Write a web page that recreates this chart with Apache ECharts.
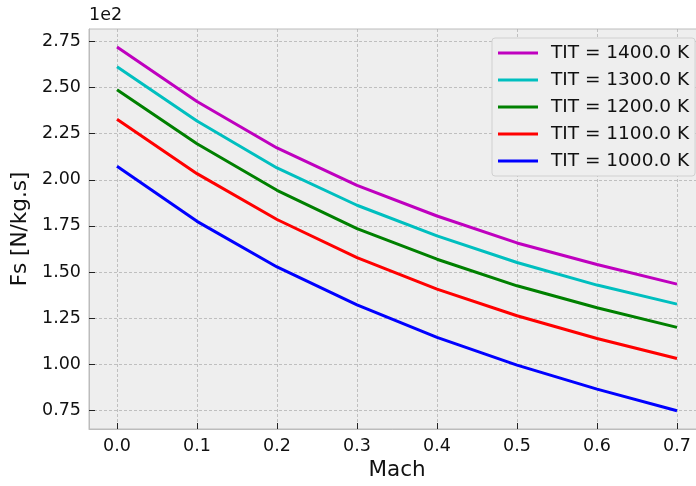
<!DOCTYPE html>
<html>
<head>
<meta charset="utf-8">
<script src="https://cdn.jsdelivr.net/npm/echarts@6/dist/echarts.min.js"></script>
<style>
  html, body { margin: 0; padding: 0; background: #fff; }
  #chart { width: 696px; height: 486px; }
</style>
</head>
<body>
<div id="chart"></div>
<script>
// Mach numbers on the x axis
const mach = [0.0, 0.1, 0.2, 0.3, 0.4, 0.5, 0.6, 0.7];

// specific thrust Fs [N/kg.s], one list per turbine inlet temperature
const fs1400 = [271.8, 242.4, 217.2, 197.0, 180.4, 165.8, 154.1, 143.5];
const fs1300 = [261.2, 231.8, 206.4, 186.2, 169.6, 155.2, 143.0, 132.7];
const fs1200 = [248.7, 219.5, 194.3, 173.6, 157.0, 142.6, 130.7, 120.1];
const fs1100 = [232.7, 203.3, 178.5, 157.9, 140.8, 126.4, 114.1, 103.3];
const fs1000 = [207.3, 177.5, 152.8, 132.3, 114.7, 99.7, 86.7, 75.0];

const xTicks = [0.0, 0.1, 0.2, 0.3, 0.4, 0.5, 0.6, 0.7];
const yTicks = [75, 100, 125, 150, 175, 200, 225, 250, 275];

const seriesDefs = [
  { name: 'TIT = 1400.0 K', color: '#bf00bf', values: fs1400 },
  { name: 'TIT = 1300.0 K', color: '#00bfbf', values: fs1300 },
  { name: 'TIT = 1200.0 K', color: '#008000', values: fs1200 },
  { name: 'TIT = 1100.0 K', color: '#ff0000', values: fs1100 },
  { name: 'TIT = 1000.0 K', color: '#0000ff', values: fs1000 }
];

const font = 'DejaVu Sans';
const chart = echarts.init(document.getElementById('chart'), null, { renderer: 'canvas' });

const gridLine = { show: true, lineStyle: { color: '#b2b2b2', width: 0.8, type: [3, 2] } };

const option = {
  animation: false,
  backgroundColor: '#ffffff',
  textStyle: { fontFamily: font },
  grid: {
    left: 89, top: 29, width: 616, height: 400,
    outerBoundsMode: 'none',
    show: true, backgroundColor: '#eeeeee', borderColor: '#bcbcbc', borderWidth: 1
  },
  legend: {
    orient: 'vertical',
    left: 492, top: 38,
    padding: [4, 6, 4, 6],
    itemWidth: 40, itemHeight: 3, itemGap: 5,
    icon: 'rect',
    backgroundColor: '#eeeeee',
    borderColor: '#d0d0d0', borderWidth: 1, borderRadius: 3,
    textStyle: { fontFamily: font, fontSize: 18.5, color: '#111', lineHeight: 22, padding: [0, 0, 0, 8] },
    data: seriesDefs.map(s => s.name)
  },
  xAxis: {
    type: 'value',
    min: -0.035, max: 0.735,
    name: 'Mach', nameLocation: 'middle', nameGap: 27,
    nameTextStyle: { fontFamily: font, fontSize: 21.5, color: '#111' },
    axisLine: { show: true, onZero: false, lineStyle: { color: '#bcbcbc', width: 1 } },
    axisTick: { show: true, inside: true, length: 6, customValues: xTicks, lineStyle: { color: '#222', width: 1 } },
    axisLabel: { customValues: xTicks, margin: 8, fontFamily: font, fontSize: 17.5, color: '#111',
      formatter: v => v.toFixed(1) },
    splitLine: gridLine
  },
  yAxis: {
    type: 'value',
    min: 65.1, max: 281.6,
    name: 'Fs [N/kg.s]', nameLocation: 'middle', nameGap: 57, nameRotate: 90,
    nameTextStyle: { fontFamily: font, fontSize: 21.5, color: '#111' },
    axisLine: { show: true, onZero: false, lineStyle: { color: '#bcbcbc', width: 1 } },
    axisTick: { show: true, inside: true, length: 6, customValues: yTicks, lineStyle: { color: '#222', width: 1 } },
    axisLabel: { customValues: yTicks, margin: 8, fontFamily: font, fontSize: 17.5, color: '#111',
      formatter: v => (v / 100).toFixed(2) },
    splitLine: gridLine
  },
  graphic: [{
    type: 'text', left: 89, top: 6,
    style: { text: '1e2', fontFamily: font, fontSize: 17.5, fill: '#111' }
  }],
  series: seriesDefs.map(s => ({
    name: s.name,
    type: 'line',
    symbol: 'none',
    color: s.color,
    lineStyle: { width: 3, color: s.color },
    data: mach.map((m, i) => [m, s.values[i]])
  }))
};

chart.setOption(option);
</script>
</body>
</html>
